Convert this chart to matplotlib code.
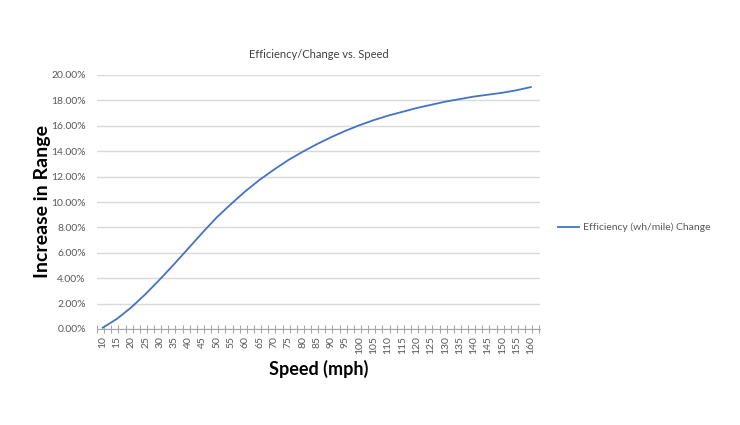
import matplotlib
matplotlib.use("Agg")
import matplotlib.pyplot as plt
import numpy as np

# speed (mph) vs increase in range (%)
speeds = [10, 15, 20, 25, 30, 35, 40, 45, 50, 55, 60, 65, 70, 75, 80, 85,
          90, 95, 100, 105, 110, 115, 120, 125, 130, 135, 140, 145, 150,
          155, 160]
change = [0.1, 0.8, 1.7, 2.75, 3.9, 5.1, 6.35, 7.6, 8.8, 9.85, 10.85, 11.75,
          12.55, 13.3, 13.95, 14.55, 15.1, 15.6, 16.05, 16.45, 16.8, 17.1,
          17.4, 17.65, 17.9, 18.1, 18.3, 18.45, 18.6, 18.8, 19.05]
label_speeds = list(range(10, 161, 5))
y_ticks = [0, 2, 4, 6, 8, 10, 12, 14, 16, 18, 20]

plt.rcParams['font.family'] = ['Lato', 'DejaVu Sans']

fig = plt.figure(figsize=(7.4, 4.25), dpi=100)
ax = fig.add_axes([97/740, 1 - 329/425, 443/740, 254/425])

ax.plot(speeds, change, color='#4472C4', linewidth=1.3,
        label='Efficiency (wh/mile) Change')

ax.set_xlim(8, 163.2)
ax.set_ylim(0, 20)
ax.set_yticks(y_ticks)
ax.set_yticklabels(['%.2f%%' % v for v in y_ticks])
ax.set_xticks(label_speeds)
ax.set_xticklabels([str(s) for s in label_speeds], rotation=90)
ax.set_xticks(np.arange(8, 163.3, 2.5), minor=True)

ax.grid(axis='y', color='#d9d9d9', linewidth=1)
ax.set_axisbelow(True)
for s in ['top', 'right', 'left']:
    ax.spines[s].set_visible(False)
ax.spines['bottom'].set_color('#a6a6a6')
ax.tick_params(axis='x', which='major', length=0, labelsize=7.5,
               labelcolor='#595959', pad=5)
ax.tick_params(axis='x', which='minor', length=6, direction='inout',
               color='#a6a6a6', width=0.8)
ax.tick_params(axis='y', length=0, labelsize=7.5, labelcolor='#595959', pad=8)

ax.set_title('Efficiency/Change vs. Speed', fontsize=8, color='#404040',
             pad=12)
ax.set_xlabel('Speed (mph)', fontsize=13, fontweight='bold', labelpad=4)
ax.set_ylabel('Increase in Range', fontsize=14, fontweight='bold', labelpad=0)

ax.legend(loc='center left', bbox_to_anchor=(1.02, 0.4), frameon=False,
          fontsize=7.5, labelcolor='#595959', handlelength=2.0,
          handletextpad=0.4)

fig.savefig('out.png', dpi=100)
